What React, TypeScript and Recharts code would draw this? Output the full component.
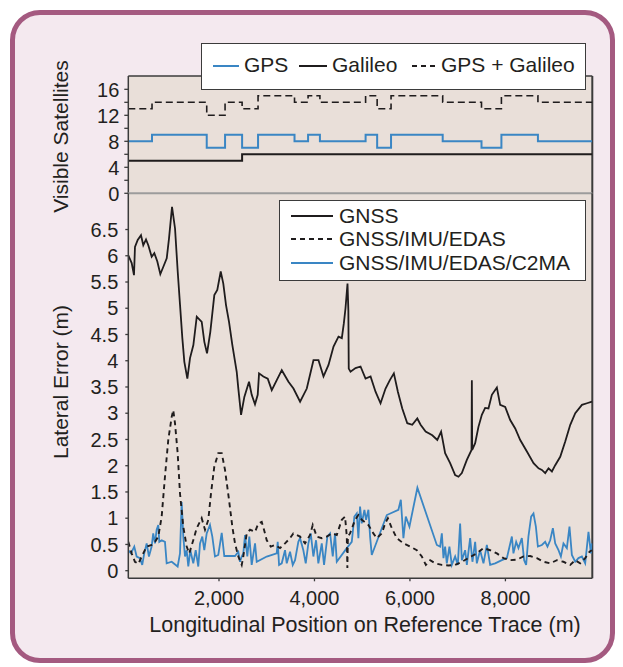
import React from 'react';
import { LineChart, Line, XAxis, YAxis, CartesianGrid, ReferenceLine, Legend } from 'recharts';

// ---------- data ----------
// Visible satellites (step changes along the reference trace, metres)
const satBreaks = [100, 597, 1743, 2127, 2484, 2818, 3582, 3866, 4114, 5071, 5313, 5604, 6686, 7499, 7916, 8681, 9820];
const gpsSats = [8, 9, 7, 9, 7, 9, 8, 9, 8, 9, 7, 9, 8, 7, 9, 8, 8];
const galileoSats = [5, 5, 5, 5, 6, 6, 6, 6, 6, 6, 6, 6, 6, 6, 6, 6, 6];
const combinedSats = [13, 14, 12, 14, 13, 15, 14, 15, 14, 15, 13, 15, 14, 13, 15, 14, 14];

// Lateral error series: [position (m), error (m)]
const gnssError: [number, number][] = [
  [100, 6.01], [171, 5.86], [219, 5.63], [240, 6.17], [297, 6.3], [366, 6.39], [414, 6.2], [471, 6.31], [519, 6.2],
  [590, 5.98], [645, 6.05], [708, 5.89], [771, 5.65], [834, 5.79], [905, 5.95], [953, 6.33], [1016, 6.93], [1079, 6.52],
  [1135, 5.7], [1184, 5.06], [1232, 4.43], [1274, 3.98], [1337, 3.66], [1393, 4.05], [1463, 4.3], [1534, 4.84], [1638, 4.74],
  [1693, 4.36], [1749, 4.14], [1818, 4.55], [1902, 5.25], [1964, 5.35], [2036, 5.7], [2090, 5.47], [2147, 5.06], [2210, 4.74],
  [2279, 4.3], [2371, 3.79], [2405, 3.47], [2462, 2.97], [2531, 3.31], [2629, 3.6], [2685, 3.35], [2754, 3.17], [2811, 3.35],
  [2839, 3.76], [2929, 3.7], [3021, 3.66], [3105, 3.44], [3210, 3.63], [3315, 3.82], [3455, 3.6], [3560, 3.47], [3699, 3.22],
  [3839, 3.47], [3979, 4.01], [4084, 4.01], [4189, 3.7], [4294, 3.92], [4399, 4.27], [4503, 4.46], [4573, 4.43], [4615, 4.71],
  [4650, 5.0], [4692, 5.47], [4710, 4.95], [4718, 3.85], [4755, 3.79], [4860, 3.86], [4965, 3.89], [5070, 3.66], [5175, 3.7],
  [5279, 3.41], [5384, 3.19], [5489, 3.47], [5579, 3.63], [5663, 3.76], [5747, 3.41], [5839, 3.09], [5944, 2.81], [6049, 2.78],
  [6154, 2.9], [6223, 2.78], [6328, 2.65], [6468, 2.58], [6573, 2.49], [6653, 2.65], [6737, 2.24], [6842, 2.05], [6947, 1.82],
  [7016, 1.79], [7087, 1.86], [7192, 2.11], [7290, 2.3], [7297, 3.63], [7304, 2.3], [7366, 2.43], [7435, 2.74], [7506, 2.97],
  [7575, 3.1], [7645, 3.09], [7716, 3.35], [7821, 3.49], [7890, 3.16], [7995, 3.12], [8100, 2.87], [8205, 2.71], [8310, 2.49],
  [8450, 2.27], [8589, 2.05], [8694, 1.95], [8764, 1.92], [8834, 1.86], [8903, 1.95], [8974, 1.89], [9043, 2.01], [9148, 2.17],
  [9253, 2.46], [9358, 2.78], [9463, 3.0], [9603, 3.16], [9708, 3.19], [9813, 3.22],
];

const edasError: [number, number][] = [
  [100, 0.55], [170, 0.33], [239, 0.17], [309, 0.13], [413, 0.33], [485, 0.46], [589, 0.49], [659, 0.55], [728, 0.65],
  [799, 1.03], [868, 1.79], [937, 2.49], [1009, 2.93], [1042, 3.06], [1078, 2.81], [1134, 2.24], [1183, 1.47], [1252, 0.84],
  [1323, 0.46], [1377, 0.33], [1461, 0.58], [1533, 0.81], [1637, 1.0], [1707, 0.78], [1776, 0.97], [1832, 1.47], [1901, 1.98],
  [1985, 2.24], [2057, 2.24], [2126, 1.92], [2210, 1.35], [2279, 0.84], [2335, 0.52], [2405, 0.27], [2476, 0.11], [2509, 0.27],
  [2581, 0.71], [2650, 0.78], [2755, 0.74], [2824, 0.9], [2895, 0.93], [2943, 0.78], [3000, 0.58], [3084, 0.46], [3174, 0.49],
  [3279, 0.43], [3383, 0.52], [3488, 0.62], [3557, 0.71], [3698, 0.65], [3803, 0.52], [3907, 0.68], [3964, 0.87], [4048, 0.65],
  [4153, 0.62], [4257, 0.65], [4362, 0.71], [4467, 0.68], [4572, 0.97], [4641, 1.03], [4677, 0.65], [4689, 0.05], [4700, 0.65],
  [4745, 0.71], [4851, 0.97], [4920, 1.06], [4991, 0.97], [5130, 0.87], [5234, 0.71], [5306, 0.62], [5411, 0.71], [5480, 0.9],
  [5537, 1.0], [5620, 0.81], [5725, 0.62], [5863, 0.52], [6004, 0.46], [6144, 0.39], [6249, 0.27], [6333, 0.11], [6423, 0.2],
  [6528, 0.14], [6668, 0.11], [6806, 0.1], [6947, 0.11], [7087, 0.17], [7225, 0.24], [7300, 0.28], [7401, 0.33], [7540, 0.43],
  [7680, 0.39], [7821, 0.33], [7959, 0.24], [8099, 0.2], [8240, 0.21], [8378, 0.27], [8519, 0.28], [8659, 0.24], [8797, 0.17],
  [8938, 0.14], [9078, 0.2], [9216, 0.17], [9357, 0.11], [9462, 0.2], [9566, 0.14], [9671, 0.24], [9761, 0.36], [9811, 0.39],
];

const c2maError: [number, number][] = [
  [100, 0.39], [156, 0.33], [225, 0.46], [275, 0.27], [344, 0.24], [392, 0.11], [434, 0.33], [485, 0.52], [532, 0.27],
  [589, 0.46], [622, 0.71], [659, 0.52], [694, 0.78], [728, 0.87], [749, 0.55], [799, 0.58], [868, 0.55], [904, 0.14],
  [1009, 0.17], [1134, 0.08], [1183, 0.33], [1218, 1.31], [1252, 0.65], [1288, 0.27], [1323, 0.39], [1357, 0.08], [1399, 0.39],
  [1461, 0.14], [1512, 0.39], [1566, 0.08], [1602, 0.52], [1650, 0.65], [1692, 0.39], [1742, 0.71], [1811, 0.87], [1860, 0.65],
  [1916, 0.27], [1985, 0.3], [2057, 0.72], [2111, 0.28], [2335, 0.28], [2405, 0.36], [2440, 0.17], [2476, 0.27], [2509, 0.33],
  [2545, 0.68], [2593, 0.27], [2635, 0.65], [2685, 0.11], [2755, 0.52], [2790, 0.17], [3000, 0.27], [3209, 0.33], [3230, 0.55],
  [3258, 0.11], [3314, 0.14], [3383, 0.39], [3419, 0.14], [3488, 0.36], [3545, 0.11], [3593, 0.2], [3662, 0.55], [3698, 0.62],
  [3767, 0.39], [3817, 0.14], [3872, 0.52], [3922, 0.71], [3977, 0.27], [4033, 0.58], [4081, 0.14], [4153, 0.52], [4201, 0.11],
  [4270, 0.65], [4327, 0.71], [4383, 0.27], [4431, 0.71], [4467, 0.17], [4677, 0.43], [4781, 0.55], [4836, 1.03], [4886, 1.09],
  [4920, 0.62], [4955, 1.22], [4991, 0.9], [5046, 1.16], [5081, 0.97], [5130, 1.16], [5165, 0.65], [5200, 0.3], [5515, 1.06],
  [5758, 1.16], [5809, 1.35], [5863, 0.62], [5913, 1.03], [5989, 0.84], [6156, 1.58], [6563, 0.49], [6632, 0.46], [6668, 0.71],
  [6702, 0.24], [6737, 0.46], [6772, 0.14], [6827, 0.46], [6877, 0.11], [6947, 0.27], [7003, 0.11], [7051, 0.9], [7087, 0.2],
  [7156, 0.39], [7192, 0.11], [7261, 0.62], [7309, 0.17], [7366, 0.55], [7401, 0.14], [7470, 0.39], [7540, 0.14], [7611, 0.49],
  [7680, 0.11], [7785, 0.14], [7925, 0.2], [8030, 0.24], [8135, 0.65], [8168, 0.33], [8225, 0.55], [8273, 0.43], [8344, 0.62],
  [8392, 0.2], [8434, 0.11], [8482, 0.65], [8539, 1.03], [8588, 1.09], [8638, 0.84], [8680, 0.46], [8764, 0.49], [8833, 0.55],
  [8881, 0.46], [8938, 0.58], [8994, 0.81], [9043, 0.52], [9112, 0.39], [9162, 0.27], [9216, 0.52], [9287, 0.43], [9342, 0.84],
  [9392, 0.3], [9462, 0.17], [9531, 0.24], [9602, 0.27], [9671, 0.14], [9740, 0.74], [9791, 0.33], [9811, 0.52],
];

const satTicks = [0, 2, 4, 6, 8, 10, 12, 14, 16];
const satLabelTicks = [0, 4, 8, 12, 16];
const errTicks = [0, 0.5, 1, 1.5, 2, 2.5, 3, 3.5, 4, 4.5, 5, 5.5, 6, 6.5];
const posTicks = [2000, 4000, 6000, 8000];
const posTickLabels = ['2,000', '4,000', '6,000', '8,000'];
const satSeriesNames = ['GPS', 'Galileo', 'GPS + Galileo'];
const errSeriesNames = ['GNSS', 'GNSS/IMU/EDAS', 'GNSS/IMU/EDAS/C2MA'];

// ---------- derived tables ----------
const satData = satBreaks.map((x, i) => ({ x, gps: gpsSats[i], galileo: galileoSats[i], both: combinedSats[i] }));
const toRows = (s: [number, number][]) => s.map(([x, y]) => ({ x, y }));
const gnssData = toRows(gnssError);
const edasData = toRows(edasError);
const c2maData = toRows(c2maError);

// ---------- style ----------
const W = 623;
const H = 667;
const X_DOMAIN: [number, number] = [100, 9820];
const SAT_DOMAIN: [number, number] = [0, 18.05];
const ERR_DOMAIN: [number, number] = [-0.145, 7.19];
const FONT = '"Liberation Sans", Arial, Helvetica, sans-serif';
const TEXT = '#231f20';
const BLUE = '#3a86c4';
const BLACK = '#1f1c1d';
const FRAME = '#3b3b3b';
const PLOT_BG = '#e9dfd9';
const TICK_FS = 20;

const SatTick = (props: any) => {
  const { x, y, payload } = props;
  const v = payload.value;
  return (
    <g>
      <line x1={x - 4} x2={x} y1={y} y2={y} stroke={FRAME} strokeWidth={1.3} />
      {satLabelTicks.includes(v) && (
        <text x={x - 9} y={y} dy="0.36em" textAnchor="end" fontSize={TICK_FS} fill={TEXT} fontFamily={FONT}>
          {v}
        </text>
      )}
    </g>
  );
};

const ErrTick = (props: any) => {
  const { x, y, payload } = props;
  return (
    <g>
      <line x1={x - 3} x2={x} y1={y} y2={y} stroke={FRAME} strokeWidth={1.3} />
      <text x={x - 10} y={y} dy="0.36em" textAnchor="end" fontSize={TICK_FS} fill={TEXT} fontFamily={FONT}>
        {payload.value}
      </text>
    </g>
  );
};

const PosTick = (props: any) => {
  const { x, y, payload } = props;
  const i = posTicks.indexOf(payload.value);
  return (
    <g>
      <line x1={x} x2={x} y1={y} y2={y + 3} stroke={FRAME} strokeWidth={1.3} />
      <text x={x} y={y + 26.5} textAnchor="middle" fontSize={TICK_FS} fill={TEXT} fontFamily={FONT}>
        {posTickLabels[i]}
      </text>
    </g>
  );
};

const sample = (color: string, width: number, dash?: string, sw = 2) => (
  <svg width={width} height={6} style={{ display: 'block' }}>
    <line x1={0} x2={width} y1={3} y2={3} stroke={color} strokeWidth={sw} strokeDasharray={dash} />
  </svg>
);

const SatLegend = () => {
  const items = [
    { name: satSeriesNames[0], color: BLUE, dash: undefined, lx: 11, lw: 26, tx: 42 },
    { name: satSeriesNames[1], color: BLACK, dash: undefined, lx: 97, lw: 28, tx: 130 },
    { name: satSeriesNames[2], color: BLACK, dash: '5 4', lx: 210, lw: 26, tx: 239 },
  ];
  return (
    <div
      style={{
        position: 'relative', width: 385, height: 47, boxSizing: 'border-box', border: `1.5px solid ${FRAME}`,
        background: '#fff', fontFamily: FONT, fontSize: 21, color: TEXT,
      }}
    >
      {items.map((it) => (
        <React.Fragment key={it.name}>
          <div style={{ position: 'absolute', left: it.lx, top: 19 }}>{sample(it.color, it.lw, it.dash)}</div>
          <div style={{ position: 'absolute', left: it.tx, top: 9, lineHeight: '24px', whiteSpace: 'nowrap' }}>{it.name}</div>
        </React.Fragment>
      ))}
    </div>
  );
};

const ErrLegend = () => {
  const items = [
    { name: errSeriesNames[0], color: BLACK, dash: undefined, cy: 15 },
    { name: errSeriesNames[1], color: BLACK, dash: '5 4', cy: 37.5 },
    { name: errSeriesNames[2], color: BLUE, dash: undefined, cy: 62 },
  ];
  return (
    <div
      style={{
        position: 'relative', width: 307, height: 81, boxSizing: 'border-box', border: `1.5px solid ${FRAME}`,
        background: '#fff', fontFamily: FONT, fontSize: 21, color: TEXT,
      }}
    >
      {items.map((it) => (
        <React.Fragment key={it.name}>
          <div style={{ position: 'absolute', left: 11, top: it.cy - 3 }}>{sample(it.color, 42, it.dash)}</div>
          <div style={{ position: 'absolute', left: 59, top: it.cy - 12, lineHeight: '24px', whiteSpace: 'nowrap' }}>{it.name}</div>
        </React.Fragment>
      ))}
    </div>
  );
};

const vTitle = (text: string, x: number, y: number) => () => (
  <text x={x} y={y} transform={`rotate(-90 ${x} ${y})`} textAnchor="middle" fontSize={21} fill={TEXT} fontFamily={FONT}>
    {text}
  </text>
);

const xTitle = () => (
  <text x={365} y={631.5} textAnchor="middle" fontSize={21.5} fill={TEXT} fontFamily={FONT}>
    Longitudinal Position on Reference Trace (m)
  </text>
);

export default function App() {
  return (
    <div style={{ position: 'absolute', left: 0, top: 0, width: W, height: H, background: '#fff', overflow: 'hidden' }}>
      <div
        style={{
          position: 'absolute', left: 10, top: 10, width: 605, height: 653, boxSizing: 'border-box',
          border: '5px solid #a45a80', borderRadius: 30, background: '#f4e9ef',
        }}
      />
      {/* Top panel: visible satellites */}
      <div style={{ position: 'absolute', left: 0, top: 0 }}>
        <LineChart width={W} height={H} data={satData} margin={{ top: 76, right: 30.7, bottom: 473.7, left: 68.3 }}>
          <CartesianGrid horizontal={false} vertical={false} fill={PLOT_BG} stroke="none" />
          <XAxis type="number" dataKey="x" domain={X_DOMAIN} hide allowDataOverflow />
          <YAxis
            type="number" domain={SAT_DOMAIN} ticks={satTicks} interval={0} width={60} allowDataOverflow
            tickSize={0} tickMargin={0} tickLine={false} axisLine={{ stroke: FRAME, strokeWidth: 1.5 }}
            tick={<SatTick />} label={vTitle('Visible Satellites', 68, 136.5)}
          />
          <ReferenceLine y={SAT_DOMAIN[1]} stroke={FRAME} strokeWidth={1.5} />
          <ReferenceLine x={X_DOMAIN[1]} stroke={FRAME} strokeWidth={2} />
          <Line type="stepAfter" dataKey="both" stroke={BLACK} strokeWidth={1.6} strokeDasharray="7 4" dot={false} activeDot={false} isAnimationActive={false} />
          <Line type="stepAfter" dataKey="gps" stroke={BLUE} strokeWidth={2} dot={false} activeDot={false} isAnimationActive={false} />
          <Line type="stepAfter" dataKey="galileo" stroke={BLACK} strokeWidth={2} dot={false} activeDot={false} isAnimationActive={false} />
          <Legend layout="vertical" align="center" verticalAlign="middle" wrapperStyle={{ left: 201, top: 43, width: 385, height: 47 }} content={() => <SatLegend />} />
        </LineChart>
      </div>
      {/* Bottom panel: lateral error */}
      <div style={{ position: 'absolute', left: 0, top: 0 }}>
        <LineChart width={W} height={H} margin={{ top: 193.3, right: 30.7, bottom: 58.7, left: 68.3 }}>
          <CartesianGrid horizontal={false} vertical={false} fill={PLOT_BG} stroke="none" />
          <XAxis
            type="number" dataKey="x" domain={X_DOMAIN} ticks={posTicks} interval={0} height={30} allowDataOverflow
            tickSize={0} tickMargin={0} tickLine={false} axisLine={{ stroke: FRAME, strokeWidth: 1.5 }}
            tick={<PosTick />} label={xTitle}
          />
          <YAxis
            type="number" domain={ERR_DOMAIN} ticks={errTicks} interval={0} width={60} allowDataOverflow
            tickSize={0} tickMargin={0} tickLine={false} axisLine={{ stroke: FRAME, strokeWidth: 1.5 }}
            tick={<ErrTick />} label={vTitle('Lateral Error (m)', 68, 382)}
          />
          <ReferenceLine y={ERR_DOMAIN[1]} stroke="#9c9c9c" strokeWidth={2} />
          <ReferenceLine x={X_DOMAIN[1]} stroke={FRAME} strokeWidth={2} />
          <Line data={c2maData} type="linear" dataKey="y" stroke={BLUE} strokeWidth={1.8} dot={false} activeDot={false} isAnimationActive={false} />
          <Line data={edasData} type="linear" dataKey="y" stroke={BLACK} strokeWidth={1.9} strokeDasharray="5 4" dot={false} activeDot={false} isAnimationActive={false} />
          <Line data={gnssData} type="linear" dataKey="y" stroke={BLACK} strokeWidth={1.8} dot={false} activeDot={false} isAnimationActive={false} />
          <Legend layout="vertical" align="center" verticalAlign="middle" wrapperStyle={{ left: 279, top: 200, width: 307, height: 81 }} content={() => <ErrLegend />} />
        </LineChart>
      </div>
    </div>
  );
}
